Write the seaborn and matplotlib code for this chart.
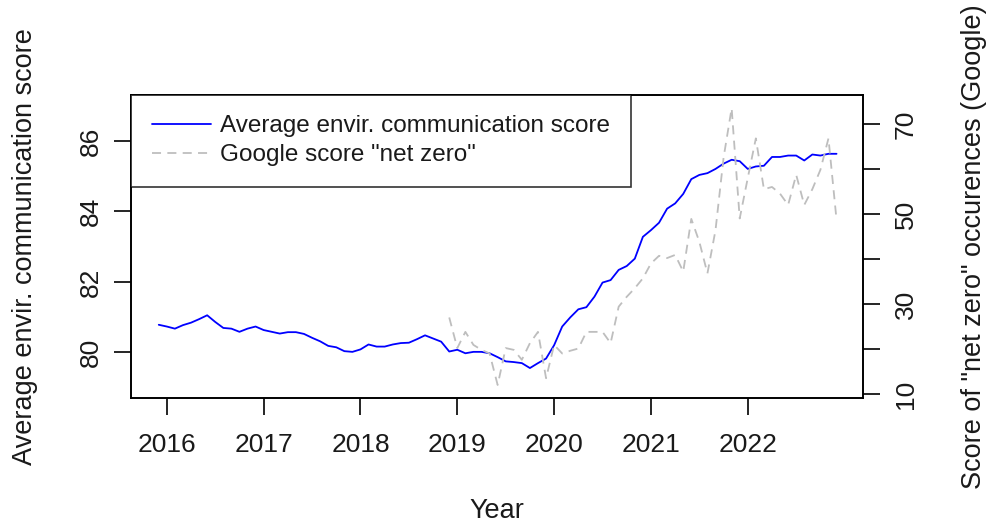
import numpy as np
import pandas as pd
import matplotlib
matplotlib.use("Agg")
import matplotlib.pyplot as plt
import seaborn as sns
from matplotlib.ticker import FixedLocator, FixedFormatter

# ---- data (monthly, Dec 2015 - Dec 2022) ----
start_month = "2015-12-01"
envir_score = [
    80.78, 80.73, 80.67, 80.77, 80.84, 80.94, 81.05, 80.86, 80.69, 80.67,
    80.58, 80.67, 80.73, 80.63, 80.58, 80.53, 80.57, 80.57, 80.52, 80.41,
    80.31, 80.18, 80.14, 80.03, 80.01, 80.08, 80.22, 80.16, 80.16, 80.22,
    80.26, 80.27, 80.37, 80.48, 80.39, 80.30, 80.02, 80.07, 79.97, 80.01,
    80.01, 79.97, 79.86, 79.74, 79.72, 79.69, 79.55, 79.69, 79.82, 80.20,
    80.73, 80.99, 81.22, 81.28, 81.58, 81.98, 82.05, 82.34, 82.45, 82.66,
    83.28, 83.47, 83.68, 84.08, 84.23, 84.50, 84.92, 85.04, 85.09, 85.21,
    85.36, 85.47, 85.43, 85.21, 85.28, 85.30, 85.55, 85.55, 85.59, 85.59,
    85.45, 85.62, 85.59, 85.64, 85.64,
]
google_start = "2018-12-01"
google_netzero = [
    27.0, 20.2, 23.8, 20.9, 19.8, 19.0, 12.0, 20.2, 19.8, 17.6,
    21.3, 23.8, 13.5, 20.9, 19.0, 19.6, 20.1, 23.8, 23.8, 23.8,
    21.3, 29.4, 31.6, 33.5, 35.7, 39.0, 40.7, 40.2, 40.9, 37.2,
    48.9, 43.8, 36.8, 46.4, 62.5, 73.5, 49.0, 58.0, 66.8, 55.5,
    56.0, 54.5, 52.0, 58.7, 52.0, 55.5, 59.8, 66.8, 48.7,
]
year_ticks = [2016, 2017, 2018, 2019, 2020, 2021, 2022]
left_ticks = [80, 82, 84, 86]
right_ticks = [10, 20, 30, 40, 50, 60, 70]
right_labels = ["10", "", "30", "", "50", "", "70"]

def frac_year(start, n):
    d = pd.date_range(start, periods=n, freq="MS")
    return d.year + (d.month - 1) / 12.0

df_env = pd.DataFrame({"t": frac_year(start_month, len(envir_score)),
                       "score": envir_score})
df_g = pd.DataFrame({"t": frac_year(google_start, len(google_netzero)),
                     "score": google_netzero})

sns.set_theme(style="ticks")
plt.rcParams["font.family"] = ["Liberation Sans", "DejaVu Sans"]
FS_TICK = 19
FS_LAB = 19.5
FS_LEG = 17.5
TXT = "#1a1a1a"

fig = plt.figure(figsize=(9.91, 5.25), dpi=100)
ax = fig.add_axes([131 / 991, 1 - 398.3 / 525, 732 / 991, 303.6 / 525])
ax2 = ax.twinx()

sns.lineplot(data=df_env, x="t", y="score", ax=ax, color="#0000FF",
             linewidth=1.3, label="Average envir. communication score",
             legend=False)
sns.lineplot(data=df_g, x="t", y="score", ax=ax2, color="#BEBEBE",
             linewidth=1.3, linestyle=(0, (5, 3.5)),
             label='Google score "net zero"', legend=False)

ax.set_xlim(2015.63, 2023.19)
ax.set_ylim(78.69, 87.32)
ax2.set_ylim(9.04, 76.5)

ax.xaxis.set_major_locator(FixedLocator(year_ticks))
ax.set_xticklabels([str(y) for y in year_ticks], fontsize=FS_TICK)
ax.yaxis.set_major_locator(FixedLocator(left_ticks))
ax.set_yticklabels([str(v) for v in left_ticks], fontsize=FS_TICK,
                   rotation=90, va="center")
ax2.yaxis.set_major_locator(FixedLocator(right_ticks))
ax2.yaxis.set_major_formatter(FixedFormatter(right_labels))
for lab in ax2.get_yticklabels():
    lab.set_rotation(90)
    lab.set_va("center")
    lab.set_fontsize(FS_TICK)

for a in (ax, ax2):
    a.tick_params(axis="both", direction="out", length=12, width=1.2,
                  color="black", labelcolor=TXT)
    for s in a.spines.values():
        s.set_color("black")
        s.set_linewidth(1.2)
ax.tick_params(axis="y", pad=8)
ax.tick_params(axis="x", pad=13)
ax2.tick_params(axis="y", pad=10)

ax.set_xlabel("Year", fontsize=FS_LAB, color=TXT)
ax.set_ylabel("Average envir. communication score", fontsize=FS_LAB,
              color=TXT)
ax2.set_ylabel('Score of "net zero" occurences (Google)', fontsize=FS_LAB,
               color=TXT)
ax.xaxis.set_label_coords(0.5, -0.328)
ax.yaxis.set_label_coords(-0.127, 0.5)
ax2.yaxis.set_label_coords(1.134, 0.5)

h1, l1 = ax.get_legend_handles_labels()
h2, l2 = ax2.get_legend_handles_labels()
leg = ax2.legend(h1 + h2, l1 + l2, loc="upper left", bbox_to_anchor=(0, 1),
                 borderaxespad=0, fontsize=FS_LEG, frameon=True,
                 fancybox=False, handlelength=2.45, handletextpad=0.38,
                 borderpad=0.85, labelspacing=0.28)
leg.get_frame().set_edgecolor("black")
leg.get_frame().set_linewidth(1.2)
for t in leg.get_texts():
    t.set_color(TXT)

fig.savefig("out.png", dpi=100)
